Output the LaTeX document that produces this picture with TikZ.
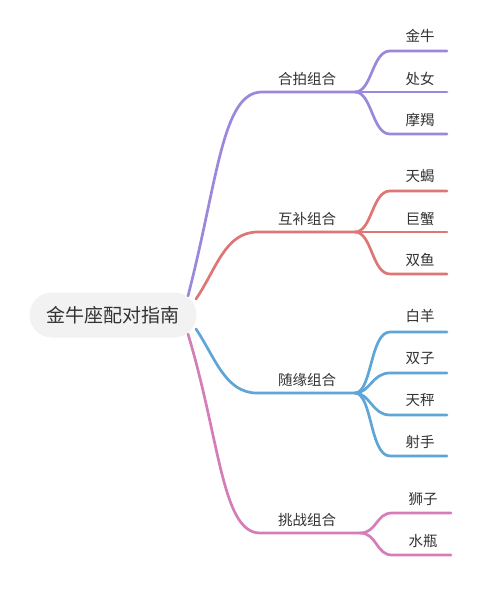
\documentclass[tikz,border=0pt]{standalone}
\usepackage{fontspec}
\newfontfamily\cjk{Noto Sans CJK SC}
\definecolor{cpur}{RGB}{155,135,220}
\definecolor{cred}{RGB}{222,118,118}
\definecolor{cblu}{RGB}{95,165,215}
\definecolor{cpnk}{RGB}{214,125,185}
\definecolor{ctxt}{RGB}{51,51,51}
\begin{document}
\begin{tikzpicture}[x=1pt,y=-1pt,
  br/.style={line width=2.7pt, line cap=round},
  lf/.style={font=\cjk\fontsize{14.5}{16}\selectfont, text=ctxt, inner sep=0pt},
  cat/.style={font=\cjk\fontsize{14.5}{16}\selectfont, text=ctxt, inner sep=0pt},
  rootbox/.style={font=\cjk\fontsize{19}{22}\selectfont, text=ctxt, fill=black!5, minimum width=167pt, minimum height=45pt, rounded corners=22.5pt, inner sep=0pt}]
\useasboundingbox (0,0) rectangle (500,599);
\fill[white] (0,0) rectangle (500,599);

% coordinates
\coordinate (ps) at (188,296); \coordinate (ph) at (262,92); \coordinate (pj) at (355,92);
\coordinate (rs) at (196,299); \coordinate (rh) at (258,232); \coordinate (rj) at (355,232);
\coordinate (bs) at (196,329); \coordinate (bh) at (257,393); \coordinate (bj) at (355,393);
\coordinate (ks) at (188,334); \coordinate (kh) at (260,533); \coordinate (kj) at (360,533);

\coordinate (p1a) at (390,51);  \coordinate (p1b) at (447,51);
\coordinate (p2b) at (447,92);
\coordinate (p3a) at (390,134); \coordinate (p3b) at (447,134);
\coordinate (r1a) at (390,191); \coordinate (r1b) at (447,191);
\coordinate (r2b) at (447,232);
\coordinate (r3a) at (390,274); \coordinate (r3b) at (447,274);
\coordinate (b1a) at (390,332); \coordinate (b1b) at (447,332);
\coordinate (b2a) at (390,373); \coordinate (b2b) at (447,373);
\coordinate (b3a) at (390,415); \coordinate (b3b) at (447,415);
\coordinate (b4a) at (390,456); \coordinate (b4b) at (447,456);
\coordinate (k1a) at (392,513); \coordinate (k1b) at (451,513);
\coordinate (k2a) at (392,555); \coordinate (k2b) at (451,555);

% purple
\draw[br,cpur] (ps) .. controls (218,180) and (222,92) .. (ph) -- (pj);
\draw[br,cpur] (pj) .. controls (372,92) and (372,51) .. (p1a) -- (p1b);
\draw[br,cpur] (pj) -- (p2b);
\draw[br,cpur] (pj) .. controls (372,92) and (372,134) .. (p3a) -- (p3b);
% red
\draw[br,cred] (rs) .. controls (217,268) and (225,232) .. (rh) -- (rj);
\draw[br,cred] (rj) .. controls (372,232) and (372,191) .. (r1a) -- (r1b);
\draw[br,cred] (rj) -- (r2b);
\draw[br,cred] (rj) .. controls (372,232) and (372,274) .. (r3a) -- (r3b);
% blue
\draw[br,cblu] (bs) .. controls (215,357) and (225,393) .. (bh) -- (bj);
\draw[br,cblu] (bj) .. controls (372,393) and (370,332) .. (b1a) -- (b1b);
\draw[br,cblu] (bj) .. controls (370,393) and (372,373) .. (b2a) -- (b2b);
\draw[br,cblu] (bj) .. controls (370,393) and (372,415) .. (b3a) -- (b3b);
\draw[br,cblu] (bj) .. controls (372,393) and (370,456) .. (b4a) -- (b4b);
% pink
\draw[br,cpnk] (ks) .. controls (220,440) and (222,533) .. (kh) -- (kj);
\draw[br,cpnk] (kj) .. controls (377,533) and (376,513) .. (k1a) -- (k1b);
\draw[br,cpnk] (kj) .. controls (377,533) and (376,555) .. (k2a) -- (k2b);

% nodes
\node[rootbox] (root) at (113,315) {金牛座配对指南};
\node[cat] (c1) at (307,79) {合拍组合};
\node[cat] (c2) at (307,219) {互补组合};
\node[cat] (c3) at (307,380) {随缘组合};
\node[cat] (c4) at (307,520) {挑战组合};
\node[lf] (l1) at (420,36) {金牛};
\node[lf] (l2) at (420,79) {处女};
\node[lf] (l3) at (420,120) {摩羯};
\node[lf] (l4) at (420,176) {天蝎};
\node[lf] (l5) at (420,219) {巨蟹};
\node[lf] (l6) at (420,260) {双鱼};
\node[lf] (l7) at (420,316) {白羊};
\node[lf] (l8) at (420,358) {双子};
\node[lf] (l9) at (420,400) {天秤};
\node[lf] (l10) at (420,442) {射手};
\node[lf] (l11) at (423,499) {狮子};
\node[lf] (l12) at (423,541) {水瓶};
\end{tikzpicture}
\end{document}
